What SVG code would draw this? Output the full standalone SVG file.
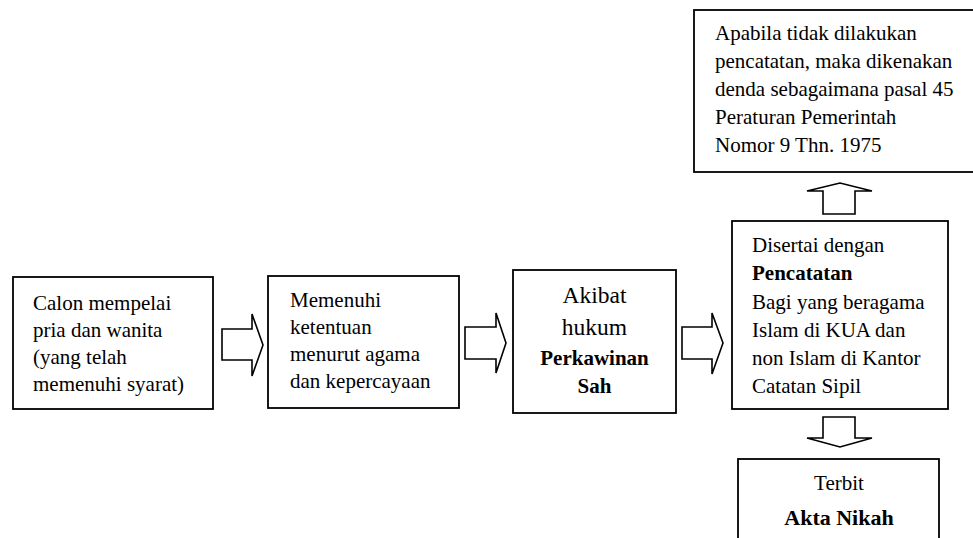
<svg xmlns="http://www.w3.org/2000/svg" width="973" height="538" viewBox="0 0 973 538">
<style>
.box{fill:#fff;stroke:#000;stroke-width:1.8}
.arr{fill:#fff;stroke:#000;stroke-width:1.6;stroke-linejoin:miter}
text{font-family:'Liberation Serif','Tinos','Noto Serif','DejaVu Serif',serif;font-size:21px;fill:#000}
.b{font-weight:bold}
.c{text-anchor:middle}
.L{font-size:23.5px}
</style>
<rect width="973" height="538" fill="#fff"/>
<g id="n1"><rect class="box" x="13" y="277" width="200" height="132"/>
<text x="33" y="310">Calon mempelai</text>
<text x="33" y="337">pria dan wanita</text>
<text x="33" y="364">(yang telah</text>
<text x="33" y="391">memenuhi syarat)</text></g>
<g id="n2"><rect class="box" x="268" y="276" width="191" height="132"/>
<text x="290" y="307">Memenuhi</text>
<text x="290" y="334">ketentuan</text>
<text x="290" y="361">menurut agama</text>
<text x="290" y="388">dan kepercayaan</text></g>
<g id="n3"><rect class="box" x="513" y="270" width="163" height="143"/>
<text class="c L" x="594.5" y="303">Akibat</text>
<text class="c L" x="594.5" y="335">hukum</text>
<text class="c b" x="594.5" y="365">Perkawinan</text>
<text class="c b" x="594.5" y="393">Sah</text></g>
<g id="n4"><rect class="box" x="732" y="221" width="216" height="188"/>
<text x="752" y="252">Disertai dengan</text>
<text class="b" x="752" y="280">Pencatatan</text>
<text x="752" y="308.5">Bagi yang beragama</text>
<text x="752" y="337">Islam di KUA dan</text>
<text x="752" y="365">non Islam di Kantor</text>
<text x="752" y="393">Catatan Sipil</text></g>
<g id="n5"><rect class="box" x="694" y="10" width="290" height="162"/>
<text x="715" y="40">Apabila tidak dilakukan</text>
<text x="715" y="68">pencatatan, maka dikenakan</text>
<text x="715" y="96">denda sebagaimana pasal 45</text>
<text x="715" y="124">Peraturan Pemerintah</text>
<text x="715" y="152">Nomor 9 Thn. 1975</text></g>
<g id="n6"><rect class="box" x="738" y="459" width="201" height="100"/>
<text class="c" x="839" y="490">Terbit</text>
<text class="c b" x="839" y="525" style="font-size:22px">Akta Nikah</text></g>
<g id="connectors">
<polygon class="arr" points="222,329 252,329 252,314 263,345 252,376 252,360 222,360"/>
<polygon class="arr" points="465,327 496,327 496,313 506,343 496,373 496,359 465,359"/>
<polygon class="arr" points="682,327 712,327 712,313 723,343 712,374 712,359 682,359"/>
<polygon class="arr" points="823,214 823,191 807,191 840,183 872,191 855,191 855,214"/>
<polygon class="arr" points="823,417 855,417 855,438 872,438 840,447 807,438 823,438"/>
</g>
</svg>
